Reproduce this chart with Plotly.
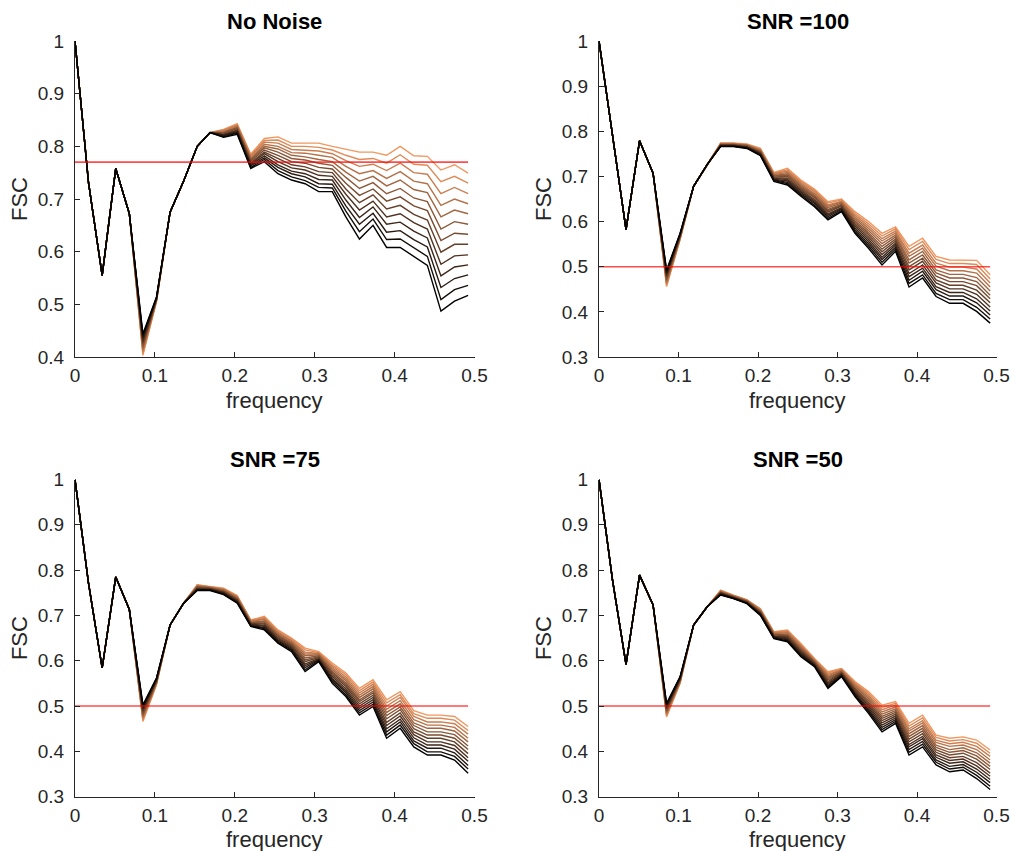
import plotly.graph_objects as go

# ---------------- data ----------------
frequency = [0.000, 0.017, 0.034, 0.051, 0.068, 0.085, 0.102, 0.119, 0.136, 0.153,
             0.169, 0.186, 0.203, 0.220, 0.237, 0.254, 0.271, 0.288, 0.305, 0.322,
             0.339, 0.356, 0.373, 0.390, 0.407, 0.424, 0.441, 0.458, 0.475, 0.492]

panel_titles = ["No Noise", "SNR =100", "SNR =75", "SNR =50"]
thresholds = [0.77, 0.5, 0.5, 0.5]
y_ranges = [[0.4, 1.0], [0.3, 1.0], [0.3, 1.0], [0.3, 1.0]]

# FSC values (x1000) per frequency bin; each bin lists the 13 curves from the
# orange one to the black one (a single value when all curves coincide).
no_noise_fsc = [
    [1000], [730], [555], [758], [672],
    [403, 406, 410, 413, 417, 420, 424, 427, 430, 434, 437, 441, 444],
    [505, 506, 507, 507, 508, 509, 510, 510, 511, 512, 512, 513, 514],
    [675], [734], [800], [826],
    [832, 831, 830, 828, 827, 826, 825, 823, 822, 821, 820, 818, 817],
    [843, 841, 840, 838, 836, 835, 833, 831, 830, 828, 826, 825, 823],
    [785, 783, 781, 778, 776, 774, 772, 769, 767, 765, 763, 760, 758],
    [815, 811, 808, 804, 800, 797, 793, 789, 786, 782, 778, 775, 771],
    [818, 812, 806, 800, 795, 789, 783, 777, 771, 765, 760, 754, 748],
    [806, 800, 794, 788, 783, 777, 771, 765, 759, 753, 748, 742, 736],
    [806, 800, 793, 787, 780, 774, 768, 761, 755, 748, 742, 735, 729],
    [806, 798, 791, 783, 775, 768, 760, 752, 745, 737, 729, 722, 714],
    [800, 793, 786, 779, 771, 764, 757, 750, 743, 736, 728, 721, 714],
    [794, 783, 773, 762, 751, 741, 730, 719, 709, 698, 687, 677, 666],
    [789, 775, 762, 748, 734, 720, 707, 693, 679, 665, 652, 638, 624],
    [789, 777, 766, 754, 743, 731, 719, 708, 696, 685, 673, 662, 650],
    [783, 768, 754, 739, 725, 710, 696, 681, 666, 652, 637, 623, 608],
    [800, 784, 768, 752, 736, 720, 704, 688, 672, 656, 640, 624, 608],
    [782, 766, 750, 734, 718, 702, 687, 671, 655, 639, 623, 607, 591],
    [781, 764, 747, 729, 712, 695, 678, 660, 643, 626, 609, 591, 574],
    [755, 733, 710, 688, 666, 643, 621, 599, 576, 554, 532, 509, 487],
    [765, 743, 722, 700, 679, 657, 635, 614, 592, 571, 549, 528, 506],
    [749, 730, 710, 691, 672, 652, 633, 614, 594, 575, 556, 536, 517],
]

snr100_fsc = [
    [1000], [785], [582], [779], [707],
    [456, 459, 462, 465, 468, 471, 475, 478, 481, 484, 487, 490, 493],
    [560, 561, 562, 564, 565, 566, 567, 568, 569, 571, 572, 573, 574],
    [678], [726],
    [774, 773, 773, 772, 771, 771, 770, 769, 769, 768, 767, 767, 766],
    [774, 773, 773, 772, 771, 771, 770, 769, 769, 768, 767, 767, 766],
    [772, 771, 770, 770, 769, 768, 767, 766, 765, 765, 764, 763, 762],
    [762, 761, 759, 758, 757, 755, 754, 753, 751, 750, 749, 747, 746],
    [709, 707, 706, 704, 702, 701, 699, 697, 696, 694, 692, 691, 689],
    [718, 715, 712, 709, 706, 703, 700, 696, 693, 690, 687, 684, 681],
    [692, 689, 686, 683, 680, 677, 674, 671, 668, 665, 662, 659, 656],
    [672, 669, 666, 662, 659, 656, 653, 649, 646, 643, 640, 636, 633],
    [644, 641, 637, 634, 631, 627, 624, 621, 617, 614, 611, 607, 604],
    [650, 648, 645, 643, 641, 638, 636, 634, 631, 629, 627, 624, 622],
    [622, 618, 614, 610, 606, 602, 598, 594, 590, 586, 582, 578, 574],
    [600, 595, 590, 585, 580, 575, 571, 566, 561, 556, 551, 546, 541],
    [574, 568, 562, 557, 551, 545, 539, 533, 527, 521, 516, 510, 504],
    [588, 584, 579, 575, 570, 566, 561, 557, 552, 548, 543, 539, 534],
    [545, 538, 530, 523, 515, 508, 500, 493, 485, 478, 470, 463, 455],
    [563, 556, 548, 541, 534, 526, 519, 512, 504, 497, 490, 482, 475],
    [523, 516, 508, 501, 493, 486, 479, 471, 464, 456, 449, 441, 434],
    [515, 507, 499, 491, 483, 475, 467, 459, 451, 443, 435, 427, 419],
    [515, 507, 499, 491, 483, 475, 467, 459, 451, 443, 435, 427, 419],
    [514, 505, 495, 486, 476, 467, 458, 448, 439, 429, 420, 410, 401],
    [482, 473, 464, 455, 446, 437, 429, 420, 411, 402, 393, 384, 375],
]

snr75_fsc = [
    [1000], [770], [584], [785], [713],
    [466, 469, 472, 475, 478, 481, 485, 488, 491, 494, 497, 500, 503],
    [547, 548, 550, 551, 552, 553, 555, 556, 557, 558, 560, 561, 562],
    [679], [727],
    [768, 767, 766, 765, 764, 763, 762, 760, 759, 758, 757, 756, 755],
    [764, 763, 763, 762, 761, 760, 760, 759, 758, 757, 757, 756, 755],
    [760, 759, 758, 757, 755, 754, 753, 752, 751, 750, 748, 747, 746],
    [744, 743, 741, 740, 738, 737, 736, 734, 733, 731, 730, 728, 727],
    [690, 689, 688, 687, 685, 684, 683, 682, 681, 680, 678, 677, 676],
    [698, 696, 693, 691, 688, 686, 683, 681, 678, 676, 673, 671, 668],
    [668, 666, 663, 661, 658, 656, 654, 651, 649, 646, 644, 641, 639],
    [650, 648, 645, 643, 640, 638, 635, 633, 630, 628, 625, 623, 620],
    [628, 624, 619, 615, 611, 606, 602, 598, 593, 589, 585, 580, 576],
    [620, 618, 616, 615, 613, 611, 609, 607, 605, 603, 602, 600, 598],
    [595, 591, 588, 584, 580, 576, 573, 569, 565, 561, 558, 554, 550],
    [573, 569, 564, 560, 556, 551, 547, 543, 538, 534, 530, 525, 521],
    [539, 534, 529, 524, 519, 514, 510, 505, 500, 495, 490, 485, 480],
    [558, 553, 548, 543, 538, 533, 529, 524, 519, 514, 509, 504, 499],
    [514, 507, 500, 493, 486, 479, 472, 464, 457, 450, 443, 436, 429],
    [532, 525, 519, 512, 505, 498, 492, 485, 478, 471, 465, 458, 451],
    [490, 483, 477, 470, 463, 457, 450, 443, 437, 430, 423, 417, 410],
    [480, 473, 465, 458, 451, 443, 436, 429, 421, 414, 407, 399, 392],
    [480, 473, 465, 458, 451, 443, 436, 429, 421, 414, 407, 399, 392],
    [477, 469, 461, 453, 445, 437, 429, 421, 413, 405, 397, 389, 381],
    [455, 446, 438, 429, 421, 412, 404, 395, 386, 378, 369, 361, 352],
]

snr50_fsc = [
    [1000], [778], [592], [789], [723],
    [476, 479, 481, 484, 486, 489, 491, 494, 496, 499, 501, 504, 506],
    [550, 551, 553, 554, 555, 556, 558, 559, 560, 561, 563, 564, 565],
    [679], [719],
    [756, 755, 754, 753, 752, 751, 751, 750, 749, 748, 747, 746, 745],
    [745, 744, 744, 743, 742, 742, 741, 740, 740, 739, 738, 738, 737],
    [735, 734, 734, 733, 732, 731, 731, 730, 729, 728, 728, 727, 726],
    [715, 714, 713, 711, 710, 709, 708, 706, 705, 704, 703, 701, 700],
    [664, 663, 662, 660, 659, 658, 657, 655, 654, 653, 652, 650, 649],
    [668, 666, 664, 662, 659, 657, 655, 653, 651, 648, 646, 644, 642],
    [638, 636, 633, 631, 628, 626, 624, 621, 619, 616, 614, 611, 609],
    [605, 604, 602, 601, 599, 598, 596, 595, 593, 592, 590, 589, 587],
    [576, 573, 570, 567, 564, 561, 558, 554, 551, 548, 545, 542, 539],
    [583, 582, 580, 579, 577, 576, 574, 573, 571, 570, 568, 567, 565],
    [554, 551, 549, 546, 543, 540, 538, 535, 532, 529, 527, 524, 521],
    [532, 528, 524, 520, 516, 512, 508, 504, 500, 496, 492, 488, 484],
    [502, 497, 492, 487, 482, 477, 473, 468, 463, 458, 453, 448, 443],
    [510, 506, 502, 498, 494, 490, 486, 482, 478, 474, 470, 466, 462],
    [462, 456, 450, 445, 439, 433, 427, 421, 415, 410, 404, 398, 392],
    [480, 474, 468, 463, 457, 451, 445, 439, 433, 428, 422, 416, 410],
    [436, 431, 425, 420, 414, 409, 403, 398, 392, 387, 381, 376, 370],
    [429, 423, 417, 411, 404, 398, 392, 386, 380, 374, 367, 361, 355],
    [432, 426, 420, 414, 408, 402, 396, 389, 383, 377, 371, 365, 359],
    [425, 418, 411, 404, 397, 390, 383, 375, 368, 361, 354, 347, 340],
    [403, 396, 389, 381, 374, 367, 360, 352, 345, 338, 331, 323, 316],
]

panel_data = [no_noise_fsc, snr100_fsc, snr75_fsc, snr50_fsc]
N_CURVES = 13

# ---------------- layout constants (pixels) ----------------
W, H = 1017, 851
X_PX = [(75, 474.5), (599, 996.5), (75, 474.5), (599, 996.5)]
Y_PX = [(41, 357), (41, 357), (479.5, 796.7), (479.5, 796.7)]
FONT = "Liberation Sans, Arial, Helvetica, sans-serif"
AX_COL = "#262626"


def curves_of(bins):
    out = []
    for j in range(N_CURVES):
        out.append([(b[j] if len(b) > 1 else b[0]) / 1000.0 for b in bins])
    return out


def copper(t):
    r = min(1.0, 1.25 * t)
    g = 0.7812 * t
    b = 0.4975 * t
    return "rgb(%d,%d,%d)" % (round(255 * r), round(255 * g), round(255 * b))


fig = go.Figure()
annotations = []
for p in range(4):
    xa = "x" if p == 0 else "x%d" % (p + 1)
    ya = "y" if p == 0 else "y%d" % (p + 1)
    curves = curves_of(panel_data[p])
    for j, ys in enumerate(curves):
        t = 0.76 * (N_CURVES - 1 - j) / (N_CURVES - 1)
        fig.add_trace(go.Scatter(
            x=frequency, y=ys, mode="lines", xaxis=xa, yaxis=ya,
            line=dict(color=copper(t), width=1.4), showlegend=False,
            hoverinfo="skip"))
    fig.add_trace(go.Scatter(
        x=[frequency[0], frequency[-1]], y=[thresholds[p], thresholds[p]],
        mode="lines", xaxis=xa, yaxis=ya,
        line=dict(color="rgba(255,0,0,0.7)", width=1.8 if p == 0 else 1.4),
        showlegend=False, hoverinfo="skip"))

    x0, x1 = X_PX[p]
    y0, y1 = Y_PX[p]
    xdom = [x0 / W, x1 / W]
    ydom = [1 - y1 / H, 1 - y0 / H]
    suffix = "" if p == 0 else str(p + 1)
    fig.layout["xaxis" + suffix] = dict(
        domain=xdom, anchor=ya, range=[0, 0.5], tick0=0, dtick=0.1,
        showgrid=False, zeroline=False, showline=True, linecolor=AX_COL,
        linewidth=1, ticks="inside", ticklen=5, tickcolor=AX_COL,
        tickfont=dict(family=FONT, size=19, color=AX_COL),
        ticklabelstandoff=1, automargin=False, fixedrange=True)
    fig.layout["yaxis" + suffix] = dict(
        domain=ydom, anchor=xa, range=y_ranges[p], tick0=0, dtick=0.1,
        showgrid=False, zeroline=False, showline=True, linecolor=AX_COL,
        linewidth=1, ticks="inside", ticklen=5, tickcolor=AX_COL,
        tickfont=dict(family=FONT, size=19, color=AX_COL),
        ticklabelstandoff=6, automargin=False, fixedrange=True)

    cx = (x0 + x1) / 2
    annotations.append(dict(
        text="<b>%s</b>" % panel_titles[p], x=cx / W, y=1 - (y0 - 20) / H,
        xref="paper", yref="paper", xanchor="center", yanchor="middle",
        showarrow=False, font=dict(family=FONT, size=22, color="#000000")))
    annotations.append(dict(
        text="frequency", x=cx / W, y=1 - (y1 + 43) / H,
        xref="paper", yref="paper", xanchor="center", yanchor="middle",
        showarrow=False, font=dict(family=FONT, size=22, color=AX_COL)))
    annotations.append(dict(
        text="FSC", x=(x0 - 56) / W, y=1 - ((y0 + y1) / 2) / H,
        xref="paper", yref="paper", xanchor="center", yanchor="middle",
        textangle=-90, showarrow=False,
        font=dict(family=FONT, size=22, color=AX_COL)))

fig.update_layout(
    width=W, height=H, margin=dict(l=0, r=0, t=0, b=0, autoexpand=False),
    paper_bgcolor="white", plot_bgcolor="white",
    annotations=annotations, showlegend=False)

fig.write_html("out.html",
               config={"displayModeBar": False, "staticPlot": True},
               post_script="document.body.style.margin='0';"
                           "document.body.style.overflow='hidden';")
